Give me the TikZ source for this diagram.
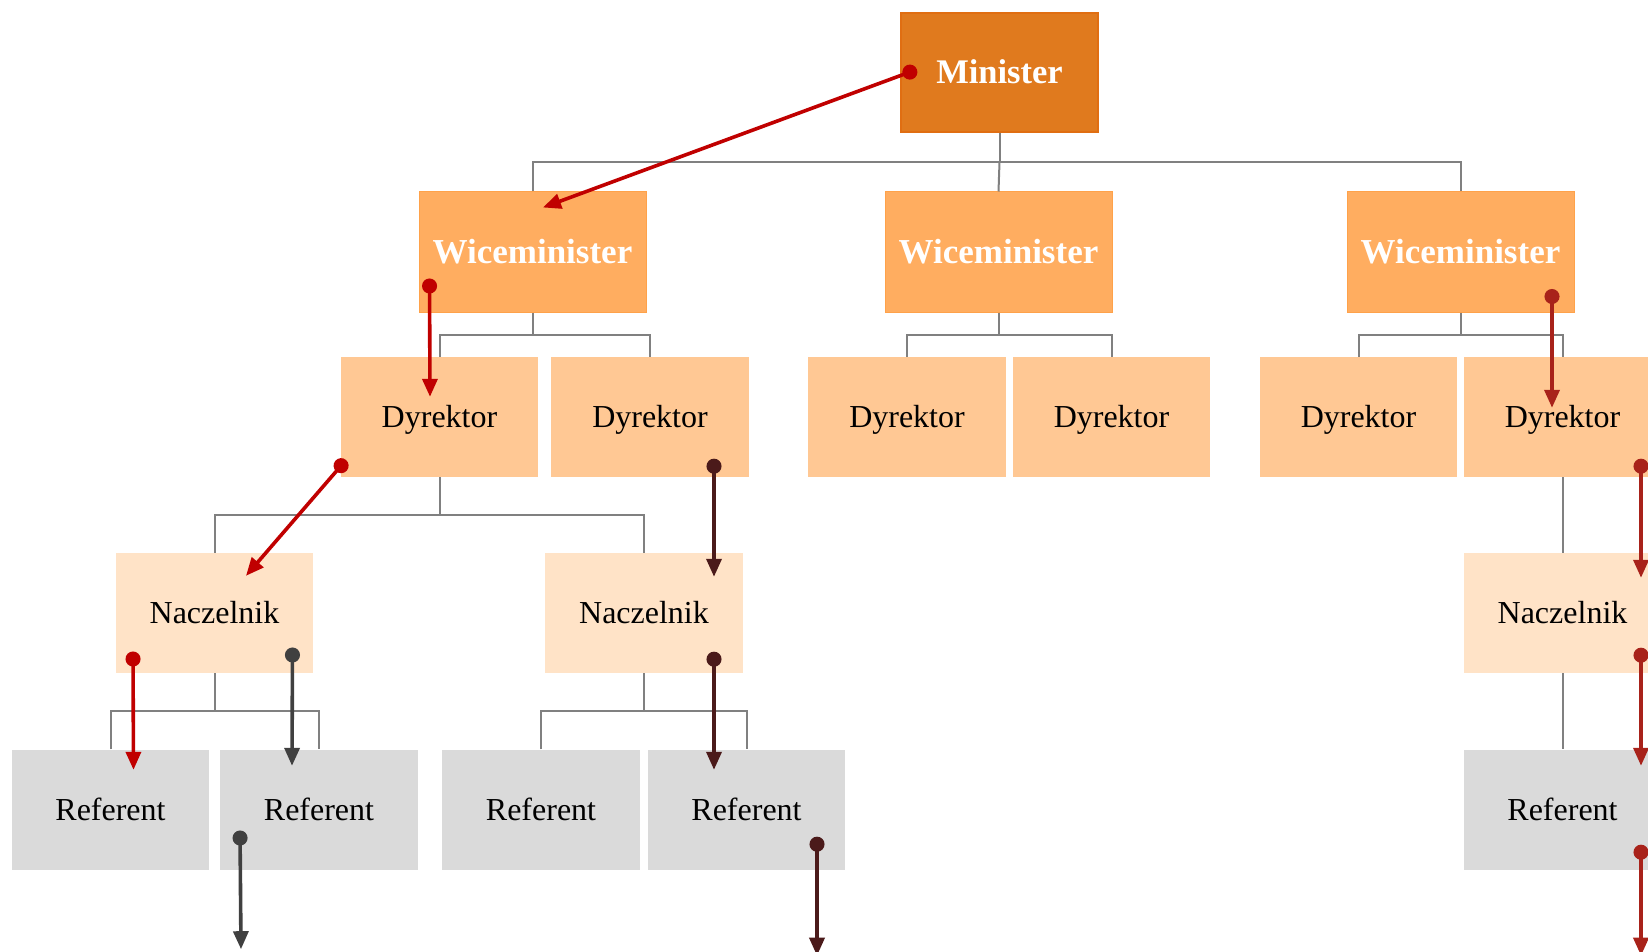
\documentclass[tikz,border=0pt]{standalone}
\usepackage{fontspec}
\setmainfont{Liberation Serif}
\usetikzlibrary{arrows.meta,calc}
\definecolor{minfill}{HTML}{E07A1E}
\definecolor{minborder}{HTML}{E06E12}
\definecolor{wfill}{HTML}{FFAD60}
\definecolor{wborder}{HTML}{FFA24A}
\definecolor{dfill}{HTML}{FFC894}
\definecolor{nfill}{HTML}{FFE3C7}
\definecolor{rfill}{HTML}{DADADA}
\definecolor{treegray}{HTML}{808080}
\definecolor{redA}{HTML}{C00000}
\definecolor{grayA}{HTML}{404040}
\definecolor{brownA}{HTML}{4B1A1A}
\definecolor{redB}{HTML}{A8221A}
\begin{document}
\begin{tikzpicture}[x=1pt,y=-1pt,
  box/.style={rectangle,inner sep=0pt,minimum width=197.6pt,minimum height=120pt,text height=21pt,text depth=0pt,font=\fontsize{32}{38}\selectfont},
  minbox/.style={box,fill=minfill,draw=minborder,line width=1.2pt,minimum width=197pt,minimum height=119pt,text=white,text height=23pt,font=\fontsize{34.5}{40}\selectfont\bfseries},
  wbox/.style={box,fill=wfill,draw=wborder,line width=1pt,minimum width=227pt,text=white,text height=23pt,font=\fontsize{35}{40}\selectfont\bfseries},
  dbox/.style={box,fill=dfill},
  nbox/.style={box,fill=nfill},
  rbox/.style={box,fill=rfill},
  tree/.style={draw=treegray,line width=2pt},
  flow/.style={line width=3.6pt,{Circle[length=15pt,width=15pt]}-{Triangle[length=18pt,width=15pt]}},
]
\useasboundingbox (0,0) rectangle (1648,952);
\clip (0,0) rectangle (1648,952);

% nodes
\node[minbox] (m) at (999.5,72.5) {Minister};
\node[wbox] (w1) at (532.5,252) {Wiceminister};
\node[wbox] (w2) at (998.5,252) {Wiceminister};
\node[wbox] (w3) at (1460.5,252) {Wiceminister};
\node[dbox] (d1) at (439.5,417) {Dyrektor};
\node[dbox] (d2) at (650,417) {Dyrektor};
\node[dbox] (d3) at (907,417) {Dyrektor};
\node[dbox] (d4) at (1111.5,417) {Dyrektor};
\node[dbox] (d5) at (1358.5,417) {Dyrektor};
\node[dbox] (d6) at (1562.5,417) {Dyrektor};
\node[nbox] (n1) at (214.5,613) {Naczelnik};
\node[nbox] (n2) at (644,613) {Naczelnik};
\node[nbox] (n3) at (1562.5,613) {Naczelnik};
\node[rbox] (r1) at (110.5,809.5) {Referent};
\node[rbox] (r2) at (319,809.5) {Referent};
\node[rbox] (r3) at (541,809.5) {Referent};
\node[rbox] (r4) at (746.5,809.5) {Referent};
\node[rbox] (r5) at (1562.5,809.5) {Referent};

% tree connectors
\path (m.south) -- (m.south|-w1.north) coordinate[pos=.5] (bm);
\draw[tree] (m.south) -- (bm);
\draw[tree] (w1.north) |- (bm) -| (w3.north);
\draw[tree] (bm) -- (w2.north);

\path (w1.south) -- (w1.south|-d1.north) coordinate[pos=.5] (bw1);
\draw[tree] (w1.south) -- (bw1);
\draw[tree] (d1.north) |- (bw1) -| (d2.north);

\path (w2.south) -- (w2.south|-d3.north) coordinate[pos=.5] (bw2);
\draw[tree] (w2.south) -- (bw2);
\draw[tree] (d3.north) |- (bw2) -| (d4.north);

\path (w3.south) -- (w3.south|-d5.north) coordinate[pos=.5] (bw3);
\draw[tree] (w3.south) -- (bw3);
\draw[tree] (d5.north) |- (bw3) -| (d6.north);

\path (d1.south) -- (d1.south|-n1.north) coordinate[pos=.5] (bd1);
\draw[tree] (d1.south) -- (bd1);
\draw[tree] (n1.north) |- (bd1) -| (n2.north);

\draw[tree] (d6.south) -- (n3.north);

\path (n1.south) -- (n1.south|-r1.north) coordinate[pos=.5] (bn1);
\draw[tree] (n1.south) -- (bn1);
\draw[tree] (r1.north) |- (bn1) -| (r2.north);

\path (n2.south) -- (n2.south|-r3.north) coordinate[pos=.5] (bn2);
\draw[tree] (n2.south) -- (bn2);
\draw[tree] (r3.north) |- (bn2) -| (r4.north);

\draw[tree] (n3.south) -- (r5.north);

% flow arrows
\coordinate (f1s) at ($(m.west)+(16.5,-3)$);
\coordinate (f1e) at ($(w1.north)+(10.5,16)$);
\coordinate (f2s) at ($(w1.west)+(11,26.5)$);
\coordinate (f2e) at ($(d1.north)+(-9.5,40)$);
\coordinate (f3s) at ($(d1.west)+(5.5,43)$);
\coordinate (f3e) at ($(n1.north)+(31.5,23)$);
\coordinate (f4s) at ($(n1.west)+(17.5,38.5)$);
\coordinate (f4e) at ($(r1.north)+(23,20.5)$);
\coordinate (f5s) at ($(n1.east)+(-21,34.5)$);
\coordinate (f5e) at ($(r2.north)+(-27,16.5)$);
\coordinate (f6s) at ($(r2.west)+(20,21)$);
\coordinate (f6e) at ($(r2.south)+(-78,79.5)$);
\coordinate (f7s) at ($(d2.south)+(64,-18.5)$);
\coordinate (f7e) at ($(n2.north)+(70,24)$);
\coordinate (f8s) at ($(n2.south)+(70,-21.5)$);
\coordinate (f8e) at ($(r4.north)+(-32.5,20.5)$);
\coordinate (f9s) at ($(r4.south)+(70.5,-33)$);
\coordinate (f9e) at ($(r4.south)+(70.5,86)$);
\coordinate (f10s) at ($(w3.south)+(91.5,-23.5)$);
\coordinate (f10e) at ($(d6.north)+(-10.5,51)$);
\coordinate (f11s) at ($(d6.south)+(78.5,-18.5)$);
\coordinate (f11e) at ($(n3.north)+(78.5,25)$);
\coordinate (f12s) at ($(n3.south)+(78.5,-25.5)$);
\coordinate (f12e) at ($(r5.north)+(78.5,16.5)$);
\coordinate (f13s) at ($(r5.south)+(78.5,-25)$);
\coordinate (f13e) at ($(r5.south)+(78.5,86)$);

\draw[flow,redA] (f1s) -- (f1e);
\draw[flow,redA] (f2s) -- (f2e);
\draw[flow,redA] (f3s) -- (f3e);
\draw[flow,redA] (f4s) -- (f4e);
\draw[flow,grayA] (f5s) -- (f5e);
\draw[flow,grayA] (f6s) -- (f6e);
\draw[flow,brownA] (f7s) -- (f7e);
\draw[flow,brownA] (f8s) -- (f8e);
\draw[flow,brownA] (f9s) -- (f9e);
\draw[flow,redB] (f10s) -- (f10e);
\draw[flow,redB] (f11s) -- (f11e);
\draw[flow,redB] (f12s) -- (f12e);
\draw[flow,redB] (f13s) -- (f13e);
\end{tikzpicture}
\end{document}
